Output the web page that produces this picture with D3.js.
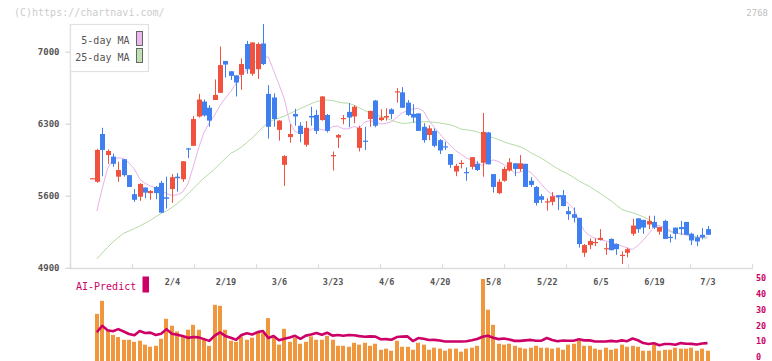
<!DOCTYPE html>
<html><head><meta charset="utf-8">
<script src="https://cdn.jsdelivr.net/npm/d3@7"></script>
<style>html,body{margin:0;padding:0;background:#fff;} svg{display:block;}</style>
</head><body><svg id="c" width="772" height="361"></svg>
<script>
// ---- data ----
const dateLabels = ["2/4","2/19","3/6","3/23","4/6","4/20","5/8","5/22","6/5","6/19","7/3"];
const dateIdx = [15,25,35,45,55,65,75,85,95,105,115];
const priceTicks = [4900,5600,6300,7000];
const aiTicks = [0,10,20,30,40,50];
const open = [5770,5735,6200,5995,5980,5785,5955,5800,5615,5590,
5680,5625,5685,5725,5585,5665,5785,5760,6060,6085,
6370,6515,6455,6530,6600,6910,6810,6770,6775,7075,
6785,6830,7080,6590,6555,6240,5900,6170,6395,6280,
6095,6375,6385,6335,6385,5985,6165,6345,6415,6370,
6065,6135,6345,6525,6335,6360,6440,6605,6605,6505,
6395,6400,6270,6190,6230,6140,6080,6005,5835,5910,
5830,5880,5910,5920,6215,5810,5625,5745,5845,5915,
5860,5910,5745,5685,5595,5540,5540,5605,5605,5450,
5420,5385,5045,5120,5145,5170,5085,5180,5130,5020,
5045,5230,5380,5365,5320,5345,5250,5355,5200,5290,
5295,5345,5230,5195,5220,5275];
const high = [5770,6055,6260,6050,6010,5930,5955,5800,5665,5720,
5680,5655,5695,5745,5785,5810,5820,5935,6065,6375,
6590,6535,6480,6730,7050,6910,6810,6770,6935,7105,
7090,7090,7270,6675,6595,6335,5995,6295,6445,6315,
6325,6465,6435,6570,6395,6030,6200,6385,6500,6480,
6280,6270,6425,6530,6440,6450,6450,6645,6655,6530,
6490,6400,6305,6285,6255,6150,6125,6005,5910,5945,
5875,5975,5935,6405,6220,5810,5760,5880,5965,5915,
5995,5910,5780,5695,5615,5575,5635,5605,5655,5495,
5485,5385,5130,5185,5185,5275,5145,5185,5135,5060,
5095,5375,5380,5365,5405,5405,5295,5365,5225,5290,
5355,5345,5240,5220,5285,5305];
const low = [5770,5725,5790,5910,5880,5735,5785,5685,5540,5550,
5575,5560,5565,5435,5475,5530,5640,5735,5965,6085,
6360,6370,6270,6530,6600,6750,6725,6565,6630,6785,
6765,6735,6870,6155,6270,6135,5695,6115,6280,6120,
6075,6280,6200,6330,6215,5845,6065,6295,6265,6305,
6030,6045,6270,6265,6325,6330,6345,6505,6455,6375,
6310,6230,6115,6140,6070,6005,6045,5870,5790,5865,
5745,5855,5840,5785,5905,5630,5615,5735,5835,5790,
5835,5685,5685,5505,5530,5455,5505,5460,5495,5365,
5340,5095,5005,5080,5110,5165,5025,5070,5025,4935,
5000,5210,5240,5230,5275,5275,5220,5180,5145,5175,
5220,5220,5120,5110,5175,5220];
const close = [5770,6045,6045,6035,5910,5850,5800,5685,5560,5715,
5630,5645,5625,5435,5570,5780,5770,5935,6055,6345,
6535,6380,6330,6580,6870,6875,6765,6700,6880,6830,
7090,7075,6880,6270,6345,6330,5985,6200,6370,6200,
6260,6360,6230,6565,6230,5995,6190,6355,6360,6465,
6260,6125,6425,6280,6360,6375,6395,6615,6455,6385,
6360,6230,6140,6255,6085,6040,6075,5900,5890,5920,
5825,5975,5850,6220,5905,5685,5735,5860,5925,5860,
5915,5685,5705,5530,5560,5545,5595,5585,5500,5420,
5385,5130,5120,5160,5150,5190,5090,5070,5080,5025,
5080,5310,5275,5290,5355,5290,5295,5180,5195,5230,
5275,5220,5165,5155,5195,5220];
const ma5 = [null,5451,5670,5863,5957,5968,5962,5918,5860,5762,
5720,5694,5675,5650,5621,5602,5609,5636,5714,5882,
6064,6214,6309,6385,6477,6550,6613,6691,6778,6822,
6871,6919,6948,6948,6817,6681,6540,6316,6222,6212,
6219,6244,6258,6241,6237,6271,6278,6249,6250,6273,
6258,6316,6329,6317,6297,6303,6319,6363,6404,6428,
6443,6450,6421,6331,6263,6202,6141,6089,6039,6002,
5966,5943,5921,5894,5928,5948,5932,5900,5865,5821,
5830,5846,5827,5774,5712,5653,5611,5581,5560,5526,
5472,5359,5257,5211,5186,5172,5160,5146,5131,5111,
5092,5077,5115,5167,5228,5297,5310,5294,5262,5233,
5233,5220,5197,5186,5196,5201];
const ma25 = [null,4985,5043,5097,5150,5194,5235,5257,5281,5305,
5332,5361,5396,5426,5451,5485,5524,5567,5617,5670,
5723,5772,5815,5860,5913,5962,6012,6040,6073,6117,
6161,6214,6267,6312,6337,6355,6373,6399,6423,6448,
6470,6495,6515,6525,6530,6525,6511,6502,6499,6480,
6455,6427,6406,6388,6372,6354,6333,6316,6304,6304,
6315,6319,6319,6318,6313,6307,6298,6289,6271,6247,
6240,6233,6221,6200,6180,6164,6145,6124,6106,6092,
6075,6051,6018,5991,5965,5931,5896,5864,5835,5810,
5778,5743,5716,5689,5655,5621,5586,5550,5507,5468,
5448,5435,5417,5394,5369,5329,5303,5276,5251,5238,
5228,5219,5210,5201,5193,5185];
const volume = [null,27.6,35.8,17.1,14.4,13.0,11.3,11.3,10.0,10.7,
8.2,6.9,7.5,11.9,24.5,20.1,16.5,13.8,17.6,20.7,
17.6,11.3,7.5,33.3,32.7,17.6,10.7,10.0,13.4,11.3,
12.6,15.9,15.5,24.9,13.0,8.2,18.2,10.0,12.6,8.8,
10.0,13.4,11.3,11.3,13.8,11.3,7.5,7.5,6.9,9.4,
8.2,9.4,7.5,8.8,5.0,5.7,4.4,10.7,6.9,6.9,
5.0,9.4,8.2,5.0,6.3,5.7,4.4,5.7,5.7,3.8,
5.7,6.3,7.5,49.6,30.2,20.7,8.8,8.2,8.8,7.5,
6.3,5.7,6.3,7.5,6.3,6.3,5.7,6.3,5.0,8.2,
8.8,10.7,7.5,7.5,5.7,5.0,6.3,5.0,5.7,8.2,
6.9,7.5,6.9,4.4,4.4,8.2,4.4,5.0,5.0,6.3,
5.7,5.7,6.3,4.4,5.7,4.4];
const aiPredict = [null,16.0,20.1,17.3,16.7,18.0,16.5,14.9,14.1,16.8,
15.6,15.8,14.3,15.1,18.0,15.1,14.4,13.6,12.5,13.0,
12.8,11.7,10.6,13.9,16.0,13.6,12.6,11.3,14.3,15.4,
14.6,16.1,16.8,12.4,13.7,11.0,11.9,12.7,13.8,11.9,
13.9,14.6,15.5,14.4,15.7,13.9,14.3,13.8,14.3,14.1,
13.6,13.2,13.4,13.3,11.6,11.7,11.3,13.0,13.3,13.4,
10.5,12.4,11.9,11.1,11.2,10.8,10.2,10.2,10.2,10.2,
10.4,11.0,11.8,13.2,13.8,12.6,11.7,12.1,11.4,10.6,
10.6,10.9,11.2,10.7,10.7,12.4,11.2,10.4,10.8,10.7,
10.7,11.6,10.9,10.9,10.2,10.2,10.2,10.6,10.2,10.9,
10.4,12.1,11.0,9.2,8.6,9.1,7.9,8.6,8.6,8.2,
9.2,8.8,8.7,8.3,8.9,9.2];

// ---- chart ----
const FONT = "'DejaVu Sans Mono', 'Liberation Mono', monospace";
const svg = d3.select('#c');
const n = open.length;
const x = d3.scaleLinear().domain([0, n - 1]).range([91.5, 707.5]);
const y = d3.scaleLinear().domain([4900, 7000]).range([267.7, 51.7]);
const yv = d3.scaleLinear().domain([0, 50]).range([357.7, 278.3]);
const frame = d3.scaleLinear().domain([0, 11]).range([70.5, 752.5]);

const UP = '#f1523f', DOWN = '#3f7ff0';
const idx = d3.range(n);

// watermark
svg.append('text').attr('x', 14).attr('y', 16).text('(C)https://chartnavi.com/')
  .attr('font-family', FONT).attr('font-size', 10).attr('fill', '#cccccc');
svg.append('text').attr('x', 768).attr('y', 16).attr('text-anchor', 'end').text('2768')
  .attr('font-family', FONT).attr('font-size', 9).attr('fill', '#c0c0c0');

// frame lines
const g = svg.append('g');
g.append('line').attr('x1', 70.5).attr('x2', 70.5).attr('y1', 24).attr('y2', 268.5)
  .attr('stroke', '#dddddd').attr('stroke-width', 1.5);
g.append('line').attr('x1', 70).attr('x2', 753).attr('y1', 268.5).attr('y2', 268.5)
  .attr('stroke', '#dddddd').attr('stroke-width', 1.5);
g.selectAll('.bt').data(frame.ticks(11)).enter().append('line')
  .attr('x1', d => frame(d)).attr('x2', d => frame(d)).attr('y1', 264).attr('y2', 268.5)
  .attr('stroke', '#dddddd').attr('stroke-width', 1.2);

// price axis
const ya = svg.append('g').attr('transform', 'translate(70.5,0)')
  .call(d3.axisLeft(y).tickValues(priceTicks).tickSize(5).tickPadding(6).tickFormat(d3.format('d')));
ya.select('.domain').remove();
ya.selectAll('.tick line').attr('stroke', '#cccccc');
ya.selectAll('.tick text').attr('font-family', FONT).attr('font-size', 9)
  .attr('font-weight', 'bold').attr('fill', '#555555');

// MA lines
const lineOf = (arr, sc) => d3.line().defined(i => arr[i] != null).x(i => x(i)).y(i => sc(arr[i]));
svg.append('path').datum(idx).attr('d', lineOf(ma25, y))
  .attr('fill', 'none').attr('stroke', '#b5dba5').attr('stroke-width', 1);
svg.append('path').datum(idx).attr('d', lineOf(ma5, y))
  .attr('fill', 'none').attr('stroke', '#e8b2e8').attr('stroke-width', 1);

// candles
const cg = svg.append('g');
const c = cg.selectAll('g').data(idx).enter().append('g');
c.append('line')
  .attr('x1', i => Math.round(x(i)) + 0.5).attr('x2', i => Math.round(x(i)) + 0.5)
  .attr('y1', i => y(high[i])).attr('y2', i => y(low[i]))
  .attr('stroke', i => close[i] >= open[i] ? UP : DOWN).attr('stroke-width', 1);
c.append('rect')
  .attr('x', i => Math.round(x(i)) - 2)
  .attr('width', 5)
  .attr('y', i => y(Math.max(open[i], close[i])))
  .attr('height', i => Math.max(1.2, Math.abs(y(open[i]) - y(close[i]))))
  .attr('fill', i => close[i] >= open[i] ? UP : DOWN);

// legend
const lg = svg.append('g');
lg.append('rect').attr('x', 70.5).attr('y', 24.5).attr('width', 78).attr('height', 47)
  .attr('fill', '#ffffff').attr('stroke', '#e2e2e2').attr('stroke-width', 1.2);
const legendItems = [["5-day MA", '#eab8ea'], ["25-day MA", '#bfe0b2']];
legendItems.forEach((d, k) => {
  lg.append('text').attr('x', 129.5).attr('y', 43.5 + k * 17).attr('text-anchor', 'end')
    .text(d[0]).attr('font-family', FONT).attr('font-size', 10).attr('fill', '#555555');
  lg.append('rect').attr('x', 136.5).attr('y', 31.5 + k * 17).attr('width', 6).attr('height', 14)
    .attr('fill', d[1]).attr('stroke', '#666666').attr('stroke-width', 1);
});

// date labels
const xa = svg.append('g').attr('transform', 'translate(0,277)')
  .call(d3.axisBottom(x).tickValues(dateIdx).tickSize(0).tickPadding(2)
    .tickFormat((d, k) => dateLabels[k]));
xa.select('.domain').remove();
xa.selectAll('.tick text').attr('font-family', FONT).attr('font-size', 8.5)
  .attr('font-weight', 'bold').attr('fill', '#555555');

// AI predict label
svg.append('text').attr('x', 76).attr('y', 290).text('AI-Predict')
  .attr('font-family', FONT).attr('font-size', 10).attr('fill', '#cc0066');
svg.append('rect').attr('x', 142.5).attr('y', 276.5).attr('width', 6.5).attr('height', 16)
  .attr('fill', '#cc0066');

// volume bars
svg.append('g').selectAll('rect').data(idx.filter(i => volume[i] != null)).enter().append('rect')
  .attr('x', i => Math.round(x(i)) - 2).attr('width', 4)
  .attr('y', i => yv(volume[i])).attr('height', i => 361 - yv(volume[i]))
  .attr('fill', '#f0963c');

// AI predict line
svg.append('path').datum(idx).attr('d', lineOf(aiPredict, yv))
  .attr('fill', 'none').attr('stroke', '#cc0066').attr('stroke-width', 2.6)
  .attr('stroke-linejoin', 'round');

// right axis
const ra = svg.append('g').attr('transform', 'translate(756,0)')
  .call(d3.axisRight(yv).tickValues(aiTicks).tickSize(0).tickPadding(0));
ra.select('.domain').remove();
ra.selectAll('.tick text').attr('font-family', FONT).attr('font-size', 8.5)
  .attr('font-weight', 'bold').attr('fill', '#cc0066').attr('dy', '0.25em');
</script>
</body></html>
